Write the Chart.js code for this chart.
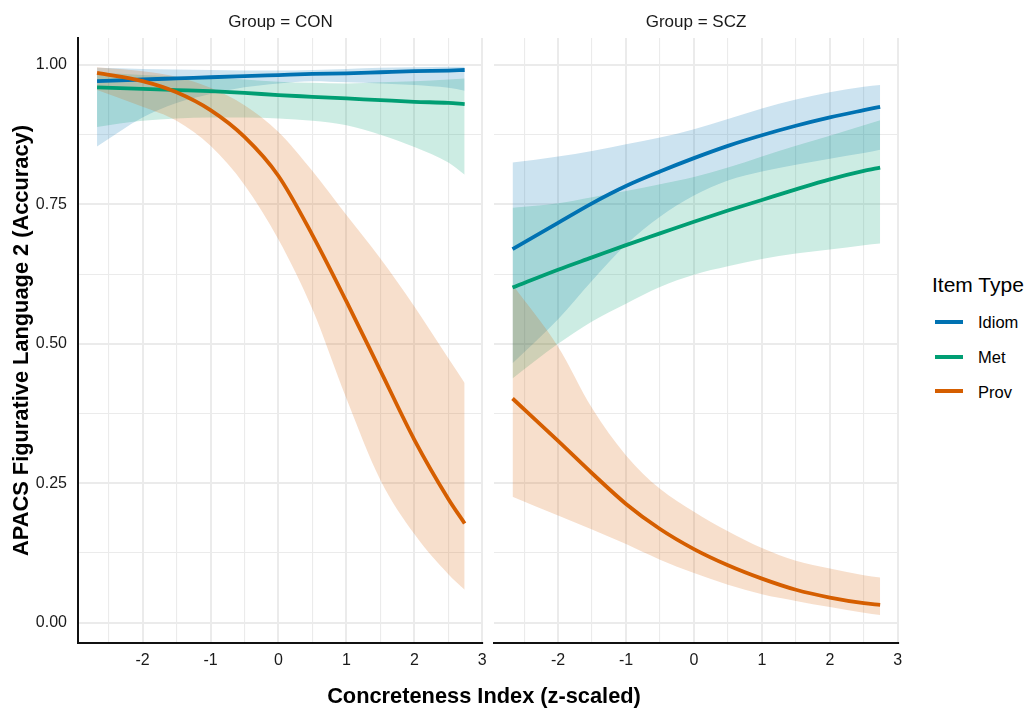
<!DOCTYPE html>
<html lang="en">
<head>
<meta charset="utf-8">
<title>APACS Figurative Language 2 accuracy by concreteness</title>
<script src="https://cdn.jsdelivr.net/npm/chart.js@4.4.1/dist/chart.umd.min.js"></script>
<style>
  html, body { margin: 0; padding: 0; background: #ffffff; }
  body {
    position: relative; width: 1026px; height: 709px; overflow: hidden;
    font-family: "Liberation Sans", Arial, Helvetica, sans-serif; color: #000;
  }
  canvas { position: absolute; top: 0; }
  #panelCON { left: 0; }
  #panelSCZ { left: 480px; }
  .x-title {
    position: absolute; left: 484px; top: 685px; transform: translateX(-50%);
    font-size: 21.8px; font-weight: bold; line-height: 1; white-space: nowrap;
  }
  .legend-title {
    position: absolute; left: 932px; top: 274px;
    font-size: 21px; line-height: 1; white-space: nowrap;
  }
  .legend-key { position: absolute; left: 935px; width: 28px; height: 4px; }
  .legend-label {
    position: absolute; left: 978px; font-size: 16.5px; line-height: 1; white-space: nowrap;
  }
</style>
</head>
<body>
<canvas id="panelCON" width="490" height="709"></canvas>
<canvas id="panelSCZ" width="430" height="709"></canvas>
<div class="x-title">Concreteness Index (z-scaled)</div>
<div class="legend-title">Item Type</div>
<div id="legend"></div>
<script>
// Facets and item types
const groups = ['CON', 'SCZ'];
const itemTypes = ['Idiom', 'Met', 'Prov'];

// Concreteness index (z-scaled) at which the fitted curves are sampled
const xSamples = [-2.67, -2, -1.5, -1, -0.5, 0, 0.5, 1, 1.5, 2, 2.5, 2.74];

// Group = CON: fitted accuracy with lower / upper confidence band
const conIdiomFit = [0.971, 0.974, 0.976, 0.978, 0.980, 0.982, 0.984, 0.985, 0.987, 0.989, 0.990, 0.991];
const conIdiomHi  = [0.995, 0.993, 0.992, 0.991, 0.990, 0.990, 0.991, 0.993, 0.995, 0.996, 0.997, 0.997];
const conIdiomLo  = [0.854, 0.906, 0.932, 0.948, 0.960, 0.967, 0.971, 0.969, 0.967, 0.964, 0.959, 0.954];

const conMetFit = [0.960, 0.957, 0.955, 0.953, 0.950, 0.946, 0.943, 0.940, 0.937, 0.934, 0.932, 0.930];
const conMetHi  = [0.986, 0.982, 0.979, 0.977, 0.974, 0.970, 0.968, 0.967, 0.969, 0.971, 0.974, 0.976];
const conMetLo  = [0.889, 0.900, 0.904, 0.906, 0.906, 0.904, 0.900, 0.892, 0.875, 0.853, 0.825, 0.803];

const conProvFit = [0.986, 0.971, 0.951, 0.919, 0.871, 0.801, 0.695, 0.576, 0.452, 0.328, 0.222, 0.178];
const conProvHi  = [0.996, 0.989, 0.979, 0.959, 0.928, 0.880, 0.810, 0.731, 0.653, 0.567, 0.474, 0.430];
const conProvLo  = [0.955, 0.925, 0.900, 0.855, 0.785, 0.687, 0.562, 0.402, 0.256, 0.159, 0.087, 0.059];

// Group = SCZ
const sczIdiomFit = [0.670, 0.717, 0.752, 0.783, 0.809, 0.833, 0.855, 0.874, 0.891, 0.906, 0.919, 0.925];
const sczIdiomHi  = [0.825, 0.836, 0.846, 0.858, 0.870, 0.885, 0.903, 0.922, 0.938, 0.951, 0.961, 0.964];
const sczIdiomLo  = [0.465, 0.544, 0.613, 0.678, 0.728, 0.766, 0.793, 0.809, 0.821, 0.832, 0.842, 0.848];

const sczMetFit = [0.601, 0.633, 0.655, 0.677, 0.698, 0.719, 0.739, 0.758, 0.777, 0.795, 0.810, 0.816];
const sczMetHi  = [0.744, 0.752, 0.763, 0.774, 0.786, 0.799, 0.816, 0.836, 0.855, 0.873, 0.892, 0.901];
const sczMetLo  = [0.438, 0.500, 0.540, 0.572, 0.602, 0.624, 0.639, 0.652, 0.662, 0.669, 0.677, 0.680];

const sczProvFit = [0.402, 0.326, 0.268, 0.213, 0.168, 0.132, 0.103, 0.079, 0.059, 0.045, 0.035, 0.032];
const sczProvHi  = [0.606, 0.495, 0.385, 0.300, 0.240, 0.199, 0.164, 0.134, 0.111, 0.097, 0.085, 0.081];
const sczProvLo  = [0.226, 0.192, 0.167, 0.141, 0.113, 0.089, 0.068, 0.051, 0.039, 0.028, 0.018, 0.014];

// Axis ticks (labelled) and minor grid positions
const xTickValues = [-2, -1, 0, 1, 2, 3];
const xMinorValues = [-2.5, -1.5, -0.5, 0.5, 1.5, 2.5];
const yTickValues = [0, 0.25, 0.5, 0.75, 1];
const yMinorValues = [0.125, 0.375, 0.625, 0.875];

// ---- styling -------------------------------------------------------------
const seriesColors = { Idiom: '#0072B2', Met: '#009E73', Prov: '#D55E00' };
const xRange = [-2.95, 3.01];
const yRange = [-0.0364, 1.0484];
const FONT = '"Liberation Sans", Arial, Helvetica, sans-serif';
Chart.defaults.font.family = FONT;

function withAlpha(hex, a) {
  const n = parseInt(hex.slice(1), 16);
  return `rgba(${(n >> 16) & 255}, ${(n >> 8) & 255}, ${n & 255}, ${a})`;
}

const panelSeries = {
  CON: {
    Idiom: { fit: conIdiomFit, hi: conIdiomHi, lo: conIdiomLo },
    Met:   { fit: conMetFit,   hi: conMetHi,   lo: conMetLo },
    Prov:  { fit: conProvFit,  hi: conProvHi,  lo: conProvLo }
  },
  SCZ: {
    Idiom: { fit: sczIdiomFit, hi: sczIdiomHi, lo: sczIdiomLo },
    Met:   { fit: sczMetFit,   hi: sczMetHi,   lo: sczMetLo },
    Prov:  { fit: sczProvFit,  hi: sczProvHi,  lo: sczProvLo }
  }
};

const toPoints = ys => xSamples.map((x, i) => ({ x, y: ys[i] }));

// Ribbons first (upper edge, then lower edge filled back to it), lines on top
function buildDatasets(series) {
  const ribbons = [];
  const lines = [];
  itemTypes.forEach((type, k) => {
    const c = seriesColors[type];
    const s = series[type];
    const common = { pointRadius: 0, pointHitRadius: 0, cubicInterpolationMode: 'monotone' };
    ribbons.push(Object.assign({
      label: type + ' upper', data: toPoints(s.hi),
      borderColor: 'rgba(0,0,0,0)', borderWidth: 1, fill: false, order: 5 - k
    }, common));
    ribbons.push(Object.assign({
      label: type + ' lower', data: toPoints(s.lo),
      borderColor: 'rgba(0,0,0,0)', borderWidth: 1,
      backgroundColor: withAlpha(c, 0.2), fill: '-1', order: 5 - k
    }, common));
    lines.push(Object.assign({
      label: type, data: toPoints(s.fit),
      borderColor: c, borderWidth: 3.8, fill: false, order: 2 - k
    }, common));
  });
  return ribbons.concat(lines);
}

const isIn = (arr, v) => arr.some(a => Math.abs(a - v) < 1e-9);

// Keep the panel edges where the layout puts them (no extra room for edge labels)
function noEdgePadding(s) {
  s.paddingLeft = 0; s.paddingRight = 0; s.paddingTop = 0; s.paddingBottom = 0;
}

function makeScales(withYAxis) {
  return {
    x: {
      type: 'linear', min: xRange[0], max: xRange[1],
      afterBuildTicks: s => {
        s.ticks = xTickValues.concat(xMinorValues).sort((a, b) => a - b).map(v => ({ value: v }));
      },
      afterFit: s => { s.height = 66; noEdgePadding(s); },
      ticks: {
        autoSkip: false, maxRotation: 0, minRotation: 0, padding: 8,
        color: '#1a1a1a', font: { size: 16 },
        callback: v => isIn(xTickValues, v) ? String(v) : ''
      },
      grid: {
        drawTicks: false,
        color: '#ebebeb',
        lineWidth: ctx => (ctx.tick && isIn(xTickValues, ctx.tick.value)) ? 2 : 1.1
      },
      border: { display: true, color: '#111111', width: 2 }
    },
    y: {
      type: 'linear', min: yRange[0], max: yRange[1],
      afterBuildTicks: s => {
        s.ticks = yTickValues.concat(yMinorValues).sort((a, b) => a - b).map(v => ({ value: v }));
      },
      afterFit: s => { s.width = withYAxis ? 78 : 0; noEdgePadding(s); },
      title: {
        display: withYAxis,
        text: 'APACS Figurative Language 2 (Accuracy)',
        color: '#000000',
        font: { size: 21.8, weight: 'bold' },
        padding: { top: 8.6, bottom: 0 }
      },
      ticks: {
        display: withYAxis, autoSkip: false, padding: 11,
        color: '#1a1a1a', font: { size: 16 },
        callback: v => isIn(yTickValues, v) ? v.toFixed(2) : ''
      },
      grid: {
        drawTicks: false,
        color: '#ebebeb',
        lineWidth: ctx => (ctx.tick && isIn(yTickValues, ctx.tick.value)) ? 2 : 1.1
      },
      border: { display: withYAxis, color: '#111111', width: 2 }
    }
  };
}

function makePanel(canvasId, group, padding, withYAxis) {
  return new Chart(document.getElementById(canvasId), {
    type: 'line',
    data: { datasets: buildDatasets(panelSeries[group]) },
    options: {
      responsive: false,
      animation: false,
      devicePixelRatio: 1,
      events: [],
      layout: { padding },
      plugins: {
        legend: { display: false },
        tooltip: { enabled: false },
        title: {
          display: true,
          text: 'Group = ' + group,
          fullSize: false,
          color: '#1a1a1a',
          font: { size: 17, weight: 'normal' },
          padding: { top: 11.9, bottom: 5.7 }
        }
      },
      scales: makeScales(withYAxis)
    }
  });
}

makePanel('panelCON', groups[0], { left: 0, top: 0, right: 7, bottom: 0 }, true);
makePanel('panelSCZ', groups[1], { left: 13.5, top: 0, right: 11.5, bottom: 0 }, false);

// Legend for the item types
const legend = document.getElementById('legend');
itemTypes.forEach((type, i) => {
  const cy = 321.7 + i * 34.8;
  const key = document.createElement('div');
  key.className = 'legend-key';
  key.style.top = (cy - 2) + 'px';
  key.style.background = seriesColors[type];
  legend.appendChild(key);
  const label = document.createElement('div');
  label.className = 'legend-label';
  label.style.top = (cy - 7.4) + 'px';
  label.textContent = type;
  legend.appendChild(label);
});
</script>
</body>
</html>
